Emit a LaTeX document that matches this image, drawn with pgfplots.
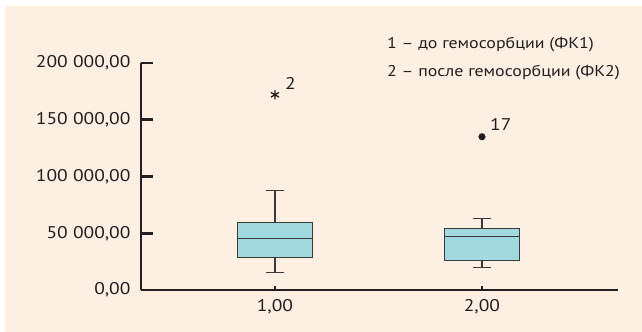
\documentclass[border=0pt]{standalone}
\usepackage{pgfplots}
\pgfplotsset{compat=1.18}
\usepgfplotslibrary{statistics}
\usepackage{fontspec}
\setmainfont{PT Sans}[FakeStretch=1.15]
\definecolor{bg}{HTML}{FDF0E3}
\definecolor{boxfill}{HTML}{A2D9DE}
\definecolor{axcol}{HTML}{231F20}
\definecolor{boxedge}{HTML}{3A3A3A}
\newcommand{\lblfont}{\fontsize{17}{20}\selectfont}
\newcommand{\legfont}{\fontsize{15.6}{19}\selectfont}
\begin{document}
\begin{tikzpicture}
\useasboundingbox (-141bp,-42bp) rectangle (501bp,290bp);
\fill[bg] (-136bp,-42bp) rectangle (501bp,284bp);
\begin{axis}[
  at={(0,0)}, anchor=south west,
  scale only axis, width=477bp, height=227bp,
  xmin=0.353, xmax=2.657, ymin=0, ymax=200000,
  axis x line=bottom, axis y line=left,
  axis line style={line width=2.6bp, color=axcol, -},
  scaled y ticks=false,
  xtick={1,2}, xticklabels={{1,00},{2,00}},
  ytick={0,50000,100000,150000,200000},
  yticklabels={{0,00},{50 000,00},{100 000,00},{150 000,00},{200 000,00}},
  tick align=inside,
  major tick length=12bp,
  ytick style={line width=2.6bp, color=axcol},
  xtick style={line width=2.4bp, color=axcol, /pgfplots/major tick length=4bp},
  tick label style={font=\lblfont, text=axcol},
  yticklabel style={xshift=-7bp},
  xticklabel style={yshift=-6bp},
  clip=false,
  boxplot/draw direction=y,
  boxplot/box extend=0.365,
  boxplot/whisker extend=0.087,
]
\addplot[draw=boxedge, line width=1.1bp, fill=boxfill,
  boxplot prepared={draw position=1, lower whisker=15250, lower quartile=28400,
  median=45000, upper quartile=59300, upper whisker=87500}] coordinates {};
\addplot[draw=boxedge, line width=1.1bp, fill=boxfill,
  boxplot prepared={draw position=2, lower whisker=20000, lower quartile=26200,
  median=47300, upper quartile=54000, upper whisker=62800}] coordinates {};
\addplot[only marks, mark=asterisk, mark size=4.6bp, color=axcol, mark options={line width=1.3bp}]
  coordinates {(1,172000)} node[anchor=south west, font=\lblfont, text=axcol, inner sep=0pt, xshift=10bp, yshift=5bp] {2};
\addplot[only marks, mark=*, mark size=3.3bp, color=axcol]
  coordinates {(2,135000)} node[anchor=south west, font=\lblfont, text=axcol, inner sep=0pt, xshift=8bp, yshift=6bp] {17};
\end{axis}
\node[anchor=base west, inner sep=0pt, text=axcol, font=\legfont] at (246bp,241.3bp) {1 – до гемосорбции (ФК1)};
\node[anchor=base west, inner sep=0pt, text=axcol, font=\legfont] at (246bp,213bp) {2 – после гемосорбции (ФК2)};
\end{tikzpicture}
\end{document}
